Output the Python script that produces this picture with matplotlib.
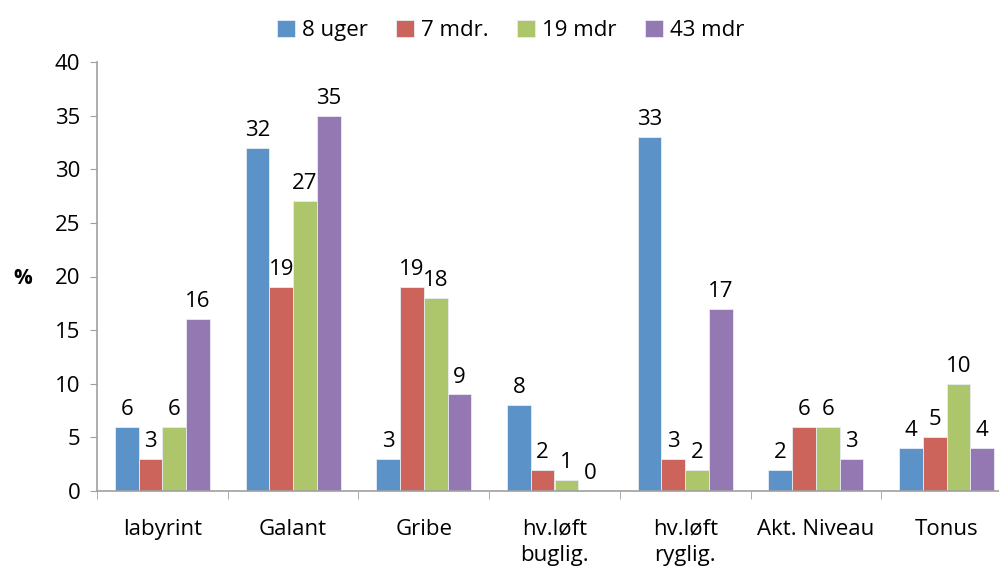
import matplotlib.pyplot as plt
import numpy as np

# Kategorier og serier
kategorier = ['labyrint', 'Galant', 'Gribe', 'hv.løft\nbuglig.', 'hv.løft\nryglig.', 'Akt. Niveau', 'Tonus']
serier = ['8 uger', '7 mdr.', '19 mdr', '43 mdr']
uger_8 = [6, 32, 3, 8, 33, 2, 4]
mdr_7 = [3, 19, 19, 2, 3, 6, 5]
mdr_19 = [6, 27, 18, 1, 2, 6, 10]
mdr_43 = [16, 35, 9, 0, 17, 3, 4]
y_ticks = [0, 5, 10, 15, 20, 25, 30, 35, 40]

farver = ['#5B93C9', '#CC645C', '#ADC56B', '#9378B1']

plt.rcParams['font.family'] = ['Open Sans', 'DejaVu Sans']
fs = 16

fig = plt.figure(figsize=(9.99, 5.75), dpi=100)
ax = fig.add_axes([97 / 999, 1 - 491 / 575, (1012 - 97) / 999, (491 - 62) / 575])

x = np.arange(len(kategorier))
bredde = 1 / 5.5
for i, (navn, vaerdier) in enumerate(zip(serier, [uger_8, mdr_7, mdr_19, mdr_43])):
    pos = x + (i - 1.5) * bredde
    bars = ax.bar(pos, vaerdier, width=bredde, color=farver[i], edgecolor='#E8ECF2',
                  linewidth=0.6, label=navn, zorder=2)
    for b, v in zip(bars, vaerdier):
        ax.annotate(str(v), (b.get_x() + b.get_width() / 2, v), xytext=(0, 5),
                    textcoords='offset points', ha='center', va='bottom', fontsize=fs)

ax.set_xlim(-0.5, len(kategorier) - 0.5)
ax.set_ylim(0, 40)
ax.set_yticks(y_ticks)
ax.tick_params(axis='y', labelsize=fs, length=5, color='#A0A0A0', direction='out', pad=7)

# kategorinavne under grupperne, tickmærker mellem grupperne
ax.set_xticks(x)
ax.set_xticklabels(kategorier, fontsize=fs, linespacing=1.3)
ax.tick_params(axis='x', length=0, pad=20)
ax.set_xticks(np.arange(len(kategorier) + 1) - 0.5, minor=True)
ax.tick_params(axis='x', which='minor', length=6, color='#A0A0A0', direction='out')

for s in ['top', 'right']:
    ax.spines[s].set_visible(False)
for s in ['left', 'bottom']:
    ax.spines[s].set_color('#A0A0A0')
    ax.spines[s].set_linewidth(1.2)

ax.set_ylabel('%', rotation=0, fontsize=15, fontweight='bold', va='center', ha='center')
ax.yaxis.set_label_coords((23 - 97) / 915, (491 - 278) / 429)

fig.legend(loc='upper center', bbox_to_anchor=(0.511, 1.0), ncol=4, frameon=False,
           fontsize=fs, handlelength=0.8, handleheight=0.8, handletextpad=0.3,
           columnspacing=1.3)

fig.savefig('out.png', dpi=100)
